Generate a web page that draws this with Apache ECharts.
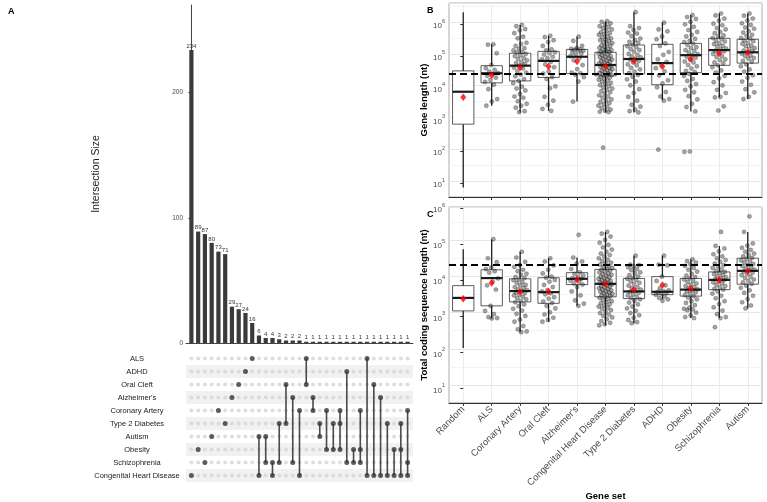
<!DOCTYPE html>
<html><head><meta charset="utf-8">
<script src="https://cdn.jsdelivr.net/npm/echarts@6/dist/echarts.min.js"></script>
<style>html,body{margin:0;padding:0;background:#fff}#c{width:767px;height:502px}</style>
</head><body><div id="c"></div><script>
// ---------- Panel A: UpSet ----------
const setNames = ['ALS','ADHD','Oral Cleft',"Alzheimer's",'Coronary Artery','Type 2 Diabetes','Autism','Obesity','Schizophrenia','Congenital Heart Disease'];
const intersectionSets = [
  ['Congenital Heart Disease'],['Obesity'],['Schizophrenia'],['Autism'],['Coronary Artery'],['Type 2 Diabetes'],["Alzheimer's"],['Oral Cleft'],['ADHD'],['ALS'],
  ['Autism','Congenital Heart Disease'],
  ['Autism','Schizophrenia'],
  ['Schizophrenia','Congenital Heart Disease'],
  ['Type 2 Diabetes','Schizophrenia'],
  ['Oral Cleft','Type 2 Diabetes'],
  ["Alzheimer's",'Schizophrenia'],
  ['Coronary Artery','Congenital Heart Disease'],
  ['ALS','Oral Cleft'],
  ["Alzheimer's",'Coronary Artery'],
  ['Type 2 Diabetes','Autism'],
  ['Coronary Artery','Obesity'],
  ['Type 2 Diabetes','Obesity'],
  ['Coronary Artery','Type 2 Diabetes','Obesity'],
  ['ADHD','Schizophrenia'],
  ['Obesity','Schizophrenia'],
  ['Coronary Artery','Obesity','Schizophrenia'],
  ['ALS','Congenital Heart Disease'],
  ['Oral Cleft','Congenital Heart Disease'],
  ["Alzheimer's",'Congenital Heart Disease'],
  ['Type 2 Diabetes','Congenital Heart Disease'],
  ['Obesity','Congenital Heart Disease'],
  ['Type 2 Diabetes','Obesity','Congenital Heart Disease'],
  ['Coronary Artery','Schizophrenia','Congenital Heart Disease']
];
const intersectionSizes = [234,89,87,80,73,71,29,27,24,16,6,4,4,3,2,2,2,1,1,1,1,1,1,1,1,1,1,1,1,1,1,1,1];
const barTicks = [0,100,200];

// ---------- Panels B & C ----------
const geneSets = ['Random','ALS','Coronary Artery','Oral Cleft',"Alzheimer's",'Congenital Heart Disease','Type 2 Diabetes','ADHD','Obesity','Schizophrenia','Autism'];
const logTicks = [1,2,3,4,5,6];
const randomMedianLog10 = 4.44; // dashed reference line (log10 nt)

// box stats, log10 nt: [lowWhisker, Q1, median, Q3, highWhisker]
const geneLenBox = [
  [0.86,2.85,3.87,4.525,6.37],[3.43,4.15,4.45,4.69,5.36],[3.22,4.21,4.69,5.08,5.97],[3.27,4.32,4.84,5.14,5.63],
  [3.56,4.44,4.97,5.20,5.60],[3.22,4.37,4.71,5.11,6.08],[3.22,4.43,4.90,5.34,6.37],[3.61,4.09,4.77,5.36,6.05],
  [3.25,4.47,5.02,5.39,6.28],[3.69,4.70,5.18,5.55,6.33],[3.64,4.77,5.11,5.52,6.33]
];
const geneLenMean = [3.70,4.39,4.63,4.66,4.82,4.67,4.84,4.66,4.90,5.08,5.10];
const cdsBox = [
  [2.12,3.15,3.51,3.85,4.86],[2.94,3.29,4.06,4.29,5.13],[2.56,3.40,3.70,4.04,4.79],[2.85,3.36,3.67,4.07,4.61],
  [3.29,3.88,4.04,4.21,4.63],[2.75,3.54,3.90,4.30,5.34],[2.81,3.49,3.69,4.05,4.68],[3.47,3.60,3.68,4.10,4.68],
  [2.95,3.56,3.74,4.05,4.58],[2.95,3.74,4.01,4.23,4.95],[3.22,3.89,4.26,4.61,5.34]
];
const cdsMean = [3.49,3.92,3.68,3.69,4.02,3.90,3.74,3.87,3.77,4.01,4.25];

// individual genes (log10 nt) per gene set; Random has none drawn
const geneLenPts = [
  null,
  [5.36,5.35,5.08,4.71,4.61,4.56,4.50,4.46,4.43,4.37,4.31,4.24,4.18,4.09,3.95,3.64,3.56,3.43],
  [5.97,5.93,5.84,5.80,5.71,5.60,5.55,5.41,5.37,5.31,5.24,5.22,5.17,5.12,5.10,5.06,5.02,4.99,4.93,4.90,4.86,4.80,4.77,4.74,4.69,4.63,4.60,4.52,4.47,4.41,4.36,4.27,4.21,4.14,4.03,3.97,3.91,3.80,3.72,3.68,3.57,3.49,3.43,3.37,3.26,3.23],
  [5.63,5.59,5.49,5.43,5.31,5.20,5.17,5.11,5.08,5.04,4.97,4.93,4.89,4.81,4.73,4.64,4.51,4.44,4.33,4.27,4.04,3.98,3.71,3.59,3.46,3.33,3.27],
  [5.60,5.47,5.31,5.24,5.22,5.20,5.19,5.16,5.15,5.11,5.07,5.03,4.99,4.92,4.86,4.71,4.58,4.47,4.45,4.41,4.33,4.19,3.56],
  [6.09,6.07,6.02,5.98,5.93,5.91,5.86,5.83,5.79,5.74,5.71,5.68,5.66,5.61,5.58,5.55,5.51,5.49,5.46,5.42,5.40,5.37,5.33,5.31,5.28,5.25,5.22,5.20,5.18,5.15,5.13,5.11,5.09,5.07,5.04,5.02,4.99,4.97,4.95,4.92,4.90,4.88,4.85,4.83,4.81,4.78,4.76,4.74,4.71,4.69,4.67,4.65,4.62,4.60,4.58,4.55,4.53,4.51,4.48,4.46,4.43,4.41,4.39,4.37,4.34,4.31,4.28,4.25,4.22,4.19,4.15,4.12,4.08,4.05,4.01,3.97,3.93,3.89,3.85,3.81,3.76,3.72,3.68,3.63,3.59,3.55,3.51,3.47,3.43,3.39,3.35,3.31,3.27,3.24,3.23,2.11],
  [6.37,5.93,5.87,5.81,5.73,5.70,5.62,5.54,5.49,5.44,5.41,5.35,5.30,5.27,5.21,5.18,5.13,5.06,5.03,4.98,4.95,4.90,4.88,4.83,4.79,4.73,4.70,4.62,4.57,4.50,4.46,4.40,4.34,4.26,4.19,4.07,3.95,3.83,3.71,3.59,3.46,3.40,3.31,3.26,3.22],
  [6.04,5.83,5.77,5.61,5.52,5.39,5.31,5.12,5.03,4.89,4.81,4.72,4.61,4.51,4.38,4.23,4.13,4.01,3.86,3.72,3.64,3.59,2.05],
  [6.28,6.22,6.16,6.07,5.99,5.91,5.81,5.75,5.66,5.61,5.53,5.47,5.43,5.38,5.34,5.27,5.24,5.18,5.15,5.10,5.05,5.02,4.97,4.94,4.88,4.82,4.79,4.71,4.67,4.60,4.53,4.49,4.43,4.37,4.27,4.21,4.11,4.04,3.93,3.85,3.73,3.63,3.49,3.39,3.25,1.99,1.98],
  [6.33,6.27,6.17,6.11,6.01,5.96,5.87,5.83,5.75,5.71,5.64,5.61,5.56,5.53,5.47,5.45,5.39,5.37,5.31,5.29,5.23,5.20,5.16,5.14,5.08,5.06,4.99,4.96,4.89,4.86,4.79,4.76,4.70,4.64,4.54,4.47,4.37,4.29,4.17,4.07,3.93,3.83,3.71,3.69,3.41,3.28],
  [6.33,6.26,6.17,6.11,6.02,5.97,5.89,5.85,5.77,5.73,5.66,5.63,5.56,5.54,5.48,5.46,5.40,5.38,5.32,5.30,5.24,5.22,5.16,5.14,5.11,5.07,5.01,4.99,4.93,4.91,4.84,4.81,4.73,4.67,4.57,4.50,4.39,4.31,4.19,4.09,3.95,3.85,3.71,3.64]
];
const cdsPts = [
  null,
  [5.14,4.61,4.50,4.36,4.31,4.25,4.21,4.05,3.96,3.86,3.74,3.29,3.15,3.06,2.98,2.95,2.94],
  [4.79,4.63,4.51,4.42,4.37,4.29,4.25,4.18,4.15,4.09,4.06,4.02,4.00,3.95,3.93,3.87,3.86,3.81,3.79,3.75,3.73,3.70,3.66,3.64,3.60,3.58,3.54,3.50,3.47,3.42,3.39,3.33,3.28,3.21,3.16,3.07,3.01,2.91,2.85,2.73,2.64,2.58,2.56],
  [4.61,4.52,4.41,4.29,4.19,4.10,4.07,4.01,3.96,3.87,3.81,3.73,3.69,3.64,3.61,3.53,3.49,3.41,3.37,3.29,3.22,3.11,3.05,2.96,2.90,2.85],
  [5.26,4.63,4.52,4.46,4.31,4.22,4.18,4.13,4.10,4.06,4.04,4.02,3.99,3.96,3.91,3.88,3.81,3.69,3.58,3.44,3.35,3.29],
  [5.34,5.29,5.21,5.12,5.04,4.98,4.91,4.85,4.79,4.74,4.70,4.66,4.61,4.57,4.53,4.49,4.46,4.43,4.40,4.37,4.34,4.31,4.29,4.27,4.24,4.22,4.19,4.17,4.15,4.12,4.10,4.08,4.06,4.04,4.02,4.00,3.98,3.96,3.94,3.92,3.90,3.88,3.86,3.84,3.82,3.80,3.78,3.76,3.74,3.72,3.70,3.68,3.66,3.64,3.62,3.60,3.58,3.56,3.54,3.51,3.48,3.45,3.42,3.39,3.36,3.33,3.30,3.27,3.24,3.21,3.17,3.13,3.09,3.05,3.01,2.97,2.92,2.87,2.82,2.78,2.75],
  [4.68,4.43,4.42,4.39,4.36,4.31,4.28,4.22,4.19,4.14,4.10,4.06,4.04,4.01,3.97,3.93,3.90,3.85,3.81,3.78,3.74,3.70,3.68,3.65,3.61,3.58,3.54,3.51,3.47,3.43,3.38,3.33,3.27,3.22,3.15,3.09,3.03,2.96,2.90,2.84,2.81],
  [4.68,4.43,4.41,4.10,3.98,3.86,3.78,3.72,3.70,3.68,3.66,3.64,3.60,3.55,3.51,3.47,3.43],
  [4.58,4.53,4.49,4.44,4.40,4.34,4.29,4.24,4.18,4.13,4.09,4.05,4.02,3.98,3.95,3.91,3.88,3.84,3.81,3.78,3.75,3.72,3.69,3.66,3.63,3.59,3.56,3.52,3.47,3.42,3.37,3.31,3.24,3.21,3.19,3.17,3.10,3.03,2.98,2.95],
  [5.34,4.95,4.88,4.80,4.72,4.66,4.61,4.56,4.51,4.46,4.42,4.38,4.34,4.30,4.26,4.23,4.20,4.17,4.14,4.11,4.08,4.05,4.03,4.00,3.97,3.94,3.91,3.87,3.84,3.80,3.76,3.74,3.69,3.63,3.57,3.50,3.42,3.34,3.25,3.16,3.06,2.98,2.95,2.70],
  [5.77,5.34,5.02,4.96,4.90,4.84,4.79,4.74,4.70,4.66,4.62,4.59,4.55,4.52,4.49,4.45,4.42,4.39,4.35,4.32,4.29,4.27,4.24,4.21,4.17,4.14,4.10,4.06,4.02,3.98,3.94,3.90,3.85,3.79,3.72,3.65,3.57,3.48,3.39,3.30,3.22]
];

// ---------- build ----------
const FONT = 'Liberation Sans, Arial, Helvetica, sans-serif';
const dotsOn = [], dotsOff = [], links = [];
intersectionSets.forEach((s, c) => {
  const rows = s.map(n => setNames.indexOf(n));
  setNames.forEach((n, r) => (rows.includes(r) ? dotsOn : dotsOff).push([c, r]));
  if (rows.length > 1) links.push([c, Math.min(...rows), Math.max(...rows)]);
});
const jit = i => (((i + 1) * 0.6180339887) % 1 - 0.5) * 0.5;
const toPts = lists => { const out = []; lists.forEach((a, k) => { if (a) a.forEach((v, i) => out.push([k + jit(i), v])); }); return out; };
const whiskerData = st => st.map((s, i) => [i, s[0], s[4]]);
const boxData = st => st.map((s, i) => [i, s[1], s[2], s[3]]);
const meanData = m => m.map((v, i) => [i, v]);
const catIdx = geneSets.map((_, i) => i);

function vLine(color, width) {
  return function (params, api) {
    const a = api.coord([api.value(0), api.value(1)]);
    const b = api.coord([api.value(0), api.value(2)]);
    return { type: 'line', shape: { x1: a[0], y1: a[1], x2: b[0], y2: b[1] }, style: { stroke: color, lineWidth: width } };
  };
}
function boxItem(params, api) {
  const x = api.value(0);
  const q1 = api.coord([x, api.value(1)]);
  const md = api.coord([x, api.value(2)]);
  const q3 = api.coord([x, api.value(3)]);
  const w = api.size([1, 0])[0] * 0.75;
  const L = md[0] - w / 2;
  return { type: 'group', children: [
    { type: 'rect', shape: { x: L, y: q3[1], width: w, height: q1[1] - q3[1] }, style: { fill: '#fff', stroke: '#333', lineWidth: 0.8 } },
    { type: 'rect', shape: { x: L, y: md[1] - 1.1, width: w, height: 2.2 }, style: { fill: '#1a1a1a' } }
  ]};
}
const supRich = { b: { fontSize: 8, color: '#4d4d4d', lineHeight: 12, verticalAlign: 'bottom' }, s: { fontSize: 5.5, color: '#4d4d4d', lineHeight: 12, verticalAlign: 'top' } };

function panelAxes(grid, min, max, name, showLabels) {
  const x = {
    type: 'value', gridIndex: grid, min: -0.5, max: 10.5, interval: 1,
    axisLine: { show: true, lineStyle: { color: '#333', width: 1 } },
    axisTick: { show: true, length: 3, customValues: catIdx, lineStyle: { color: '#333' } },
    axisLabel: showLabels ? { show: true, customValues: catIdx, formatter: v => geneSets[Math.round(v)], rotate: 45, fontSize: 9.5, color: '#4d4d4d', margin: 5, fontFamily: FONT } : { show: false },
    splitLine: { show: true, lineStyle: { color: '#ececec', width: 1 } }
  };
  if (showLabels) Object.assign(x, { name: 'Gene set', nameLocation: 'middle', nameGap: 82, nameTextStyle: { fontSize: 9.5, fontWeight: 'bold', color: '#000', fontFamily: FONT } });
  const yLab = {
    type: 'value', gridIndex: grid, min, max, position: 'left',
    axisLine: { show: false },
    axisTick: { show: true, length: 3, customValues: logTicks, lineStyle: { color: '#333' } },
    axisLabel: { customValues: logTicks, formatter: v => '{b|10}{s|' + Math.round(v) + '}', rich: supRich, margin: 4 },
    splitLine: { show: false },
    name, nameLocation: 'middle', nameGap: 17, nameTextStyle: { fontSize: 9.5, fontWeight: 'bold', color: '#000', fontFamily: FONT }
  };
  const yGrid = {
    type: 'value', gridIndex: grid, min, max, interval: 0.5, position: 'left',
    axisLine: { show: false }, axisTick: { show: false }, axisLabel: { show: false },
    splitLine: { show: true, lineStyle: { color: ['#f3f3f3', '#e6e6e6'], width: 1 } }
  };
  return { x, yLab, yGrid };
}
const pB = panelAxes(2, 0.56, 6.66, 'Gene length (nt)', false);
const pC = panelAxes(3, 0.6, 6.03, 'Total coding sequence length (nt)', true);

function panelSeries(xi, yi, box, pts, mean) {
  return [
    { type: 'custom', xAxisIndex: xi, yAxisIndex: yi, renderItem: vLine('#1f1f1f', 1.3), data: whiskerData(box), encode: { x: 0, y: [1, 2] }, z: 5 },
    { type: 'custom', xAxisIndex: xi, yAxisIndex: yi, renderItem: boxItem, data: boxData(box), encode: { x: 0, y: [1, 2, 3] }, z: 6,
      markLine: { silent: true, symbol: 'none', label: { show: false }, lineStyle: { color: '#000', width: 2, type: [7, 4] }, data: [{ yAxis: randomMedianLog10 }], z: 9 } },
    { type: 'scatter', xAxisIndex: xi, yAxisIndex: yi, data: toPts(pts), symbolSize: 4.2, z: 7,
      itemStyle: { color: 'rgba(30,30,30,0.5)', borderColor: 'rgba(0,0,0,0.55)', borderWidth: 0.5 } },
    { type: 'scatter', xAxisIndex: xi, yAxisIndex: yi, data: meanData(mean), symbol: 'diamond', symbolSize: [6, 7.5], z: 10,
      itemStyle: { color: '#ff0000' } }
  ];
}

const option = {
  animation: false,
  textStyle: { fontFamily: FONT },
  title: [
    { text: 'A', left: 3, top: 2, textStyle: { fontSize: 9, fontWeight: 'bold', color: '#000' } },
    { text: 'B', left: 422, top: 1, textStyle: { fontSize: 9, fontWeight: 'bold', color: '#000' } },
    { text: 'C', left: 422, top: 205, textStyle: { fontSize: 9, fontWeight: 'bold', color: '#000' } }
  ],
  grid: [
    { left: 186, top: 5, width: 227, height: 338 },
    { left: 186, top: 352, width: 227, height: 130 },
    { left: 449, top: 3, width: 313, height: 194, show: true, borderColor: '#aaa', borderWidth: 1 },
    { left: 449, top: 207, width: 313, height: 201, show: true, borderColor: '#aaa', borderWidth: 1 }
  ],
  xAxis: [
    { type: 'value', gridIndex: 0, min: -0.8, max: 32.8, axisLine: { show: true, onZero: false, lineStyle: { color: '#444' } }, axisTick: { show: false }, axisLabel: { show: false }, splitLine: { show: false } },
    { type: 'value', gridIndex: 1, min: -0.8, max: 32.8, show: false },
    pB.x, pC.x
  ],
  yAxis: [
    { type: 'value', gridIndex: 0, min: 0, max: 270,
      axisLine: { show: true, lineStyle: { color: '#444' } },
      axisTick: { show: true, length: 3, customValues: barTicks, lineStyle: { color: '#444' } },
      axisLabel: { customValues: barTicks, fontSize: 6.5, color: '#4d4d4d', margin: 3 },
      splitLine: { show: false },
      name: 'Intersection Size', nameLocation: 'middle', nameGap: 84, nameTextStyle: { fontSize: 10.5, color: '#222' } },
    { type: 'category', gridIndex: 1, data: setNames, inverse: true,
      axisLine: { show: false }, axisTick: { show: false },
      axisLabel: { align: 'center', margin: 49, fontSize: 7.5, color: '#222' },
      splitArea: { show: true, areaStyle: { color: ['rgba(255,255,255,0)', '#f1f1f1'] } } },
    pB.yLab, pB.yGrid, pC.yLab, pC.yGrid
  ],
  series: [
    { type: 'bar', xAxisIndex: 0, yAxisIndex: 0, data: intersectionSizes.map((v, i) => [i, v]), barWidth: 4.2,
      itemStyle: { color: '#3a3a3a' }, label: { show: true, position: 'top', distance: 1, fontSize: 6, color: '#333' } },
    { type: 'scatter', xAxisIndex: 1, yAxisIndex: 1, data: dotsOff, symbolSize: 4, itemStyle: { color: '#d6d6d6' }, z: 2 },
    { type: 'custom', xAxisIndex: 1, yAxisIndex: 1, data: links, renderItem: vLine('#4a4a4a', 1.6), encode: { x: 0, y: [1, 2] }, z: 3 },
    { type: 'scatter', xAxisIndex: 1, yAxisIndex: 1, data: dotsOn, symbolSize: 5, itemStyle: { color: '#333' }, z: 4 },
    ...panelSeries(2, 2, geneLenBox, geneLenPts, geneLenMean),
    ...panelSeries(3, 4, cdsBox, cdsPts, cdsMean)
  ]
};
const chart = echarts.init(document.getElementById('c'), null, { renderer: 'canvas' });
chart.setOption(option);
</script></body></html>
